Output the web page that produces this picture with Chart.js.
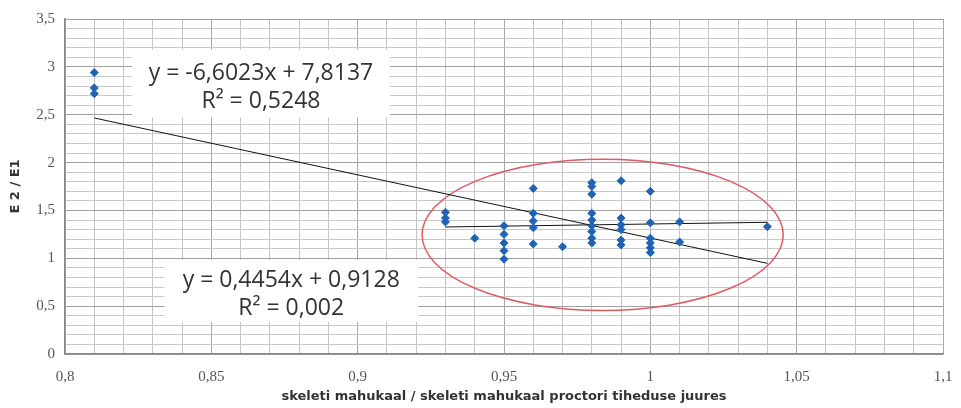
<!DOCTYPE html>
<html>
<head>
<meta charset="utf-8">
<script src="https://cdn.jsdelivr.net/npm/chart.js@4"></script>
<style>
  html, body { margin: 0; padding: 0; background: #fff; }
  #wrap { width: 961px; height: 408px; }
</style>
</head>
<body>
<div id="wrap"><canvas id="chart" width="961" height="408"></canvas></div>
<script>
// measured points (x = skeleti mahukaal ratio, y = E2/E1)
const xValues = [
  0.81, 0.81, 0.81,
  0.93, 0.93, 0.93,
  0.94,
  0.95, 0.95, 0.95, 0.95, 0.95,
  0.96, 0.96, 0.96, 0.96, 0.96,
  0.97,
  0.98, 0.98, 0.98, 0.98, 0.98, 0.98, 0.98, 0.98, 0.98,
  0.99, 0.99, 0.99, 0.99, 0.99, 0.99,
  1.00, 1.00, 1.00, 1.00, 1.00, 1.00,
  1.01, 1.01,
  1.04
];
const yValues = [
  2.94, 2.78, 2.72,
  1.48, 1.42, 1.38,
  1.21,
  1.34, 1.25, 1.16, 1.08, 0.99,
  1.73, 1.47, 1.39, 1.32, 1.15,
  1.12,
  1.79, 1.75, 1.67, 1.47, 1.40, 1.34, 1.28, 1.21, 1.16,
  1.81, 1.42, 1.35, 1.30, 1.19, 1.14,
  1.70, 1.37, 1.21, 1.16, 1.11, 1.06,
  1.38, 1.17,
  1.33
];

// trend lines (Excel equations shown on the chart)
const trendSlopes = [-6.6023, 0.4454];
const trendIntercepts = [7.8137, 0.9128];
const trendFrom = [0.81, 0.93];
const trendTo = [1.04, 1.04];
const trendLabels = [
  ["y = -6,6023x + 7,8137", "R² = 0,5248"],
  ["y = 0,4454x + 0,9128", "R² = 0,002"]
];

const points = xValues.map((x, i) => ({ x: x, y: yValues[i] }));

const trendSets = trendSlopes.map((m, i) => ({
  type: "line",
  data: [
    { x: trendFrom[i], y: m * trendFrom[i] + trendIntercepts[i] },
    { x: trendTo[i], y: m * trendTo[i] + trendIntercepts[i] }
  ],
  borderColor: "#111",
  borderWidth: 1,
  pointRadius: 0,
  fill: false
}));

function fmt(v) {
  return String(Number(v.toFixed(2))).replace(".", ",");
}

// white equation boxes + red ellipse, placed in data units
const annot = {
  id: "annot",
  beforeDatasetsDraw(chart) {
    const ctx = chart.ctx;
    const xs = chart.scales.x, ys = chart.scales.y;
    const boxes = [
      { x0: 0.8229, x1: 0.911, y0: 3.18, y1: 2.47, lab: trendLabels[0] },
      { x0: 0.834, x1: 0.9206, y0: 0.985, y1: 0.335, lab: trendLabels[1] }
    ];
    ctx.save();
    boxes.forEach((b) => {
      const l = xs.getPixelForValue(b.x0), r = xs.getPixelForValue(b.x1);
      const t = ys.getPixelForValue(b.y0), bt = ys.getPixelForValue(b.y1);
      ctx.fillStyle = "#fff";
      ctx.fillRect(l, t, r - l, bt - t);
      ctx.fillStyle = "#333";
      ctx.font = "23px 'Open Sans'";
      ctx.textAlign = "center";
      ctx.textBaseline = "middle";
      const cx = (l + r) / 2, cy = (t + bt) / 2;
      ctx.fillText(b.lab[0], cx, cy - 10);
      ctx.fillText(b.lab[1], cx, cy + 18);
    });
    // ellipse around the cluster
    const ex = xs.getPixelForValue(0.9837), ey = ys.getPixelForValue(1.245);
    const rx = xs.getPixelForValue(0.9837 + 0.0617) - ex;
    const ry = ey - ys.getPixelForValue(1.245 + 0.79);
    ctx.strokeStyle = "#e05a62";
    ctx.lineWidth = 1.5;
    ctx.beginPath();
    ctx.ellipse(ex, ey, rx, ry, 0, 0, Math.PI * 2);
    ctx.stroke();
    ctx.restore();
  }
};

new Chart(document.getElementById("chart").getContext("2d"), {
  type: "scatter",
  data: {
    datasets: [
      {
        data: points,
        pointStyle: "rectRot",
        pointRadius: 4,
        backgroundColor: "#1f63b4",
        borderColor: "#1f63b4",
        borderWidth: 1
      },
      ...trendSets
    ]
  },
  options: {
    responsive: false,
    animation: false,
    layout: { padding: { top: 19, right: 18, left: 0, bottom: 0 } },
    plugins: { legend: { display: false }, tooltip: { enabled: false } },
    scales: {
      x: {
        type: "linear",
        min: 0.8,
        max: 1.1,
        afterFit: (s) => { s.height = 54; s.paddingLeft = 0; s.paddingRight = 0; },
        ticks: {
          stepSize: 0.01,
          autoSkip: false,
          maxRotation: 0,
          color: "#555",
          font: { family: "'Liberation Serif'", size: 15 },
          padding: 14,
          callback: (v) => (Math.round(v * 100) % 5 === 0 ? fmt(v) : "")
        },
        grid: {
          color: (c) => (Math.round(c.tick.value * 100) % 5 === 0 ? "#a8a8a8" : "#c4c4c4"),
          drawTicks: false
        },
        border: { color: "#888", width: 1.5 },
        title: {
          display: true,
          text: "skeleti mahukaal / skeleti mahukaal proctori tiheduse juures",
          color: "#333",
          font: { family: "'DejaVu Sans'", size: 13, weight: "bold" },
          padding: { top: 0 }
        }
      },
      y: {
        min: 0,
        max: 3.5,
        afterFit: (s) => { s.width = 65; s.paddingTop = 0; s.paddingBottom = 0; },
        ticks: {
          stepSize: 0.1,
          autoSkip: false,
          color: "#555",
          font: { family: "'Liberation Serif'", size: 15 },
          padding: 10,
          callback: (v) => (Math.round(v * 10) % 5 === 0 ? fmt(v) : "")
        },
        grid: {
          color: (c) => (Math.round(c.tick.value * 10) % 5 === 0 ? "#a0a0a0" : "#c8c8c8"),
          drawTicks: false
        },
        border: { color: "#888", width: 1.5 },
        title: {
          display: true,
          text: "E 2 / E1",
          color: "#333",
          font: { family: "'DejaVu Sans'", size: 13, weight: "bold" },
          padding: { top: 8, bottom: 0 }
        }
      }
    }
  },
  plugins: [annot]
});
</script>
</body>
</html>
